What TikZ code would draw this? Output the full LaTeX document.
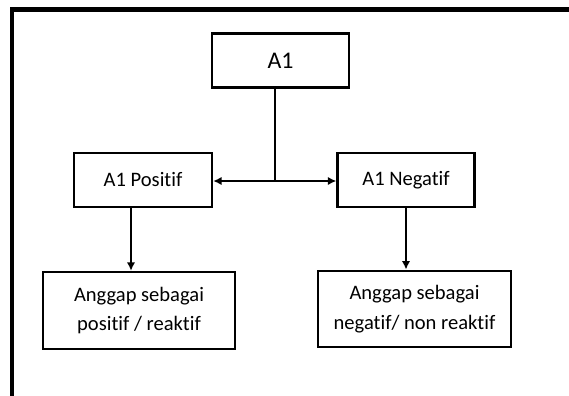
\documentclass[tikz,border=0pt]{standalone}
\usepackage{fontspec}
\setmainfont{Carlito}[Ligatures=NoCommon]
\usetikzlibrary{arrows.meta,positioning}

\begin{document}
\begin{tikzpicture}[x=0.02cm,y=-0.02cm,
  box/.style={draw,line width=1.4pt,inner sep=0pt,align=center,
    font=\fontsize{11.7}{17}\selectfont},
  link/.style={line width=1.1pt,-{Latex[length=0.17cm,width=0.17cm]}}]
\useasboundingbox (0,0) rectangle (569,396);
% outer frame, cut off at the right and the bottom
\draw[line width=2.3pt] (569,9.5) -- (12,9.5) -- (12,396);

\node[box,minimum width=2.74cm,minimum height=1.08cm,font=\fontsize{13.6}{16}\selectfont] (a1) at (280.5,60.5) {A1};
\node[box,minimum width=2.76cm,minimum height=1.08cm] (pos) at (143,180) {A1 Positif};
\node[box,minimum width=2.74cm,minimum height=1.08cm] (neg) at (406,180) {A1 Negatif};
\node[box,minimum width=3.84cm,minimum height=1.54cm] (bl) at (139,310.5) {Anggap sebagai\\ positif / reaktif};
\node[box,minimum width=3.85cm,minimum height=1.53cm] (br) at (414.5,309) {Anggap sebagai\\ negatif/ non reaktif};

\coordinate (split) at (275,181);
\draw[line width=1.1pt] (a1.south -| split) -- (split);
\draw[link] (split) -- (pos.east |- split);
\draw[link] (split) -- (neg.west |- split);
\draw[link] ([xshift=-0.24cm]pos.south) -- ([xshift=-0.24cm]pos.south |- bl.north);
\draw[link] (neg.south) -- (neg.south |- br.north);
\end{tikzpicture}
\end{document}
